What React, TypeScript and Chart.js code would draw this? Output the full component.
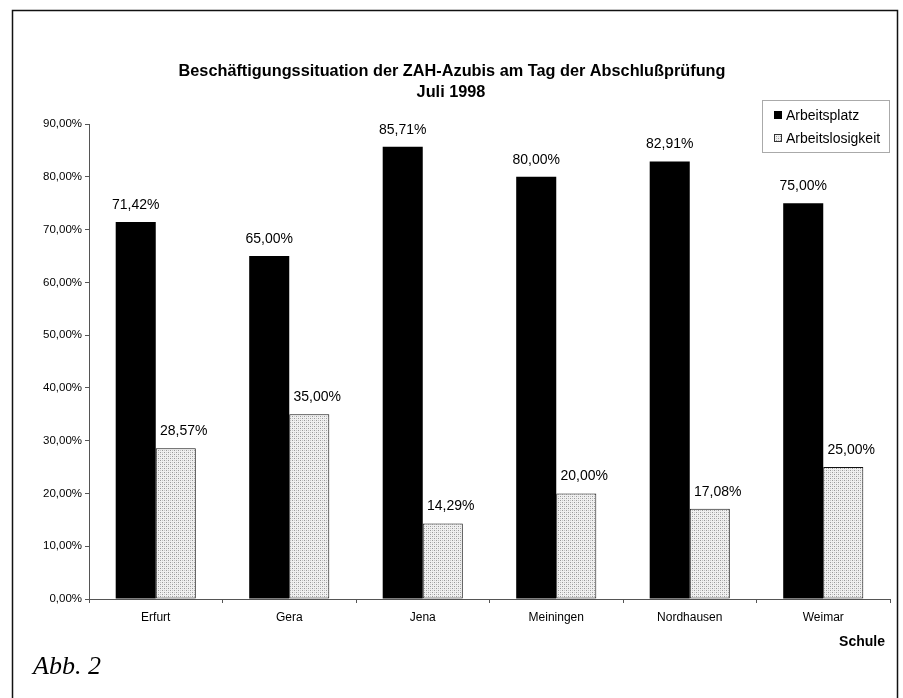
import React, { useEffect, useRef } from "react";
import { Chart, registerables } from "chart.js";

Chart.register(...registerables);

const titleLines = ["Beschäftigungssituation der ZAH-Azubis am Tag der Abschlußprüfung", "Juli 1998"];
const categories = ["Erfurt", "Gera", "Jena", "Meiningen", "Nordhausen", "Weimar"];
const seriesNames = ["Arbeitsplatz", "Arbeitslosigkeit"];
const arbeitsplatz = [71.42, 65.0, 85.71, 80.0, 82.91, 75.0];
const arbeitslosigkeit = [28.57, 35.0, 14.29, 20.0, 17.08, 25.0];
const yMin = 0;
const yMax = 90;
const yStep = 10;
const xAxisTitle = "Schule";
const figureLabel = "Abb. 2";

const fmt = (v: number) => v.toFixed(2).replace(".", ",") + "%";
const SANS = "'Liberation Sans', Arial, sans-serif";

function makePattern(): CanvasPattern | string {
  const c = document.createElement("canvas");
  c.width = 4;
  c.height = 4;
  const g = c.getContext("2d");
  if (!g) return "#ddd";
  g.fillStyle = "#f0f0f0";
  g.fillRect(0, 0, 4, 4);
  g.fillStyle = "#999";
  g.fillRect(0, 0, 1, 1);
  g.fillRect(2, 2, 1, 1);
  g.fillStyle = "#c6c6c6";
  g.fillRect(2, 0, 1, 1);
  g.fillRect(0, 2, 1, 1);
  const p = g.createPattern(c, "repeat");
  return p || "#ddd";
}

export default function App() {
  const ref = useRef<HTMLCanvasElement | null>(null);

  useEffect(() => {
    if (!ref.current) return;
    const pattern = makePattern();

    const decor = {
      id: "decor",
      beforeDraw(chart: any) {
        const ctx = chart.ctx;
        ctx.save();
        ctx.fillStyle = "#fff";
        ctx.fillRect(0, 0, chart.width, chart.height);
        ctx.restore();
      },
      afterDraw(chart: any) {
        const ctx = chart.ctx;
        ctx.save();
        // frame
        ctx.strokeStyle = "#111";
        ctx.lineWidth = 1.5;
        ctx.beginPath();
        ctx.moveTo(12.5, 698);
        ctx.lineTo(12.5, 10.5);
        ctx.lineTo(897.5, 10.5);
        ctx.lineTo(897.5, 698);
        ctx.stroke();

        // title
        ctx.fillStyle = "#000";
        ctx.textAlign = "center";
        ctx.textBaseline = "middle";
        ctx.font = "bold 16.3px " + SANS;
        ctx.fillText(titleLines[0], 452, 72);
        ctx.fillText(titleLines[1], 451, 93);

        // value labels
        ctx.font = "14px " + SANS;
        chart.data.datasets.forEach((ds: any, di: number) => {
          const meta = chart.getDatasetMeta(di);
          meta.data.forEach((bar: any, i: number) => {
            const off = di === 1 ? 8 : 0;
            ctx.fillText(fmt(ds.data[i]), bar.x + off, bar.y - 17);
          });
        });

        // legend
        ctx.strokeStyle = "#aaa";
        ctx.lineWidth = 1;
        ctx.strokeRect(762.5, 100.5, 127, 52);
        ctx.textAlign = "left";
        ctx.font = "14px " + SANS;
        chart.data.datasets.forEach((ds: any, di: number) => {
          const y = 115 + di * 23;
          ctx.fillStyle = ds.backgroundColor;
          ctx.fillRect(774, y - 4, 8, 8);
          if (di === 1) {
            ctx.strokeStyle = "#333";
            ctx.strokeRect(774.5, y - 3.5, 7, 7);
          }
          ctx.fillStyle = "#000";
          ctx.fillText(ds.label, 786, y + 1);
        });

        // axis title
        ctx.font = "bold 14px " + SANS;
        ctx.textAlign = "right";
        ctx.fillText(xAxisTitle, 885, 642);

        // figure label
        ctx.font = "italic 26px 'Liberation Serif', 'Times New Roman', serif";
        ctx.textAlign = "left";
        ctx.textBaseline = "alphabetic";
        ctx.fillText(figureLabel, 33, 674);
        ctx.restore();
      },
    };

    const chart = new Chart(ref.current, {
      type: "bar",
      data: {
        labels: categories,
        datasets: [
          {
            label: seriesNames[0],
            data: arbeitsplatz,
            backgroundColor: "#000",
            borderWidth: 0,
            categoryPercentage: 0.6,
            barPercentage: 1,
          },
          {
            label: seriesNames[1],
            data: arbeitslosigkeit,
            backgroundColor: pattern as any,
            borderColor: "#111",
            borderWidth: 1,
            borderSkipped: false,
            categoryPercentage: 0.6,
            barPercentage: 1,
          },
        ],
      },
      options: {
        responsive: false,
        animation: false,
        layout: { padding: { top: 124, right: 13, left: 0, bottom: 0 } },
        plugins: {
          legend: { display: false },
          title: { display: false },
          tooltip: { enabled: false },
        },
        scales: {
          x: {
            offset: true,
            grid: {
              display: true,
              drawOnChartArea: false,
              offset: true,
              tickLength: 4,
              color: "#555",
            },
            border: { display: true, color: "#555", width: 1 },
            ticks: { color: "#000", font: { family: SANS, size: 12 }, padding: 7 },
            afterFit: (s: any) => {
              s.height = 99;
            },
          },
          y: {
            min: yMin,
            max: yMax,
            grid: { display: true, drawOnChartArea: false, tickLength: 4, color: "#555" },
            border: { display: true, color: "#555", width: 1 },
            ticks: {
              stepSize: yStep,
              color: "#000",
              font: { family: SANS, size: 11.5 },
              padding: 3,
              callback: (v: any) => fmt(Number(v)),
            },
            afterFit: (s: any) => {
              s.width = 89;
            },
          },
        },
      },
      plugins: [decor],
    });
    return () => chart.destroy();
  }, []);

  return (
    <div style={{ position: "absolute", left: 0, top: 0, width: 903, height: 698 }}>
      <canvas ref={ref} width={903} height={698} />
    </div>
  );
}
